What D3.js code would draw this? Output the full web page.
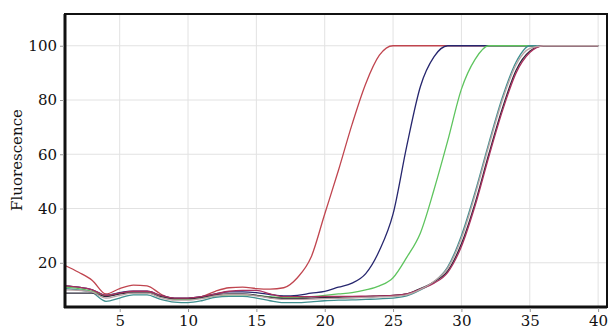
<!DOCTYPE html>
<html>
<head>
<meta charset="utf-8">
<script src="https://cdn.jsdelivr.net/npm/d3@7"></script>
<style>
  body { margin: 0; background: #fff; }
  svg { display: block; }
</style>
</head>
<body>
<div id="chart"></div>
<script>
// cycle numbers
const cycles = [1,2,3,4,5,6,7,8,9,10,11,12,13,14,15,16,17,18,19,20,21,22,23,24,25,26,27,28,29,30,31,32,33,34,35,36,37,38,39,40];

// fluorescence per sample
const redVals = [19,16.5,13.5,8.5,10.5,11.8,11.5,8.5,6.5,6.5,7.5,9.5,10.8,11,10.5,10.3,10.8,14.5,22,38,54,71,86,96.5,100,100,100,100,100,100,100,100,100,100,100,100,100,100,100,100];
const navyVals = [11.5,11,10,8,9,9.5,9.5,8,7,7,7.5,8.5,9.3,9.3,9,8.3,7.8,8,8.8,9.5,11,12.5,16,24.5,38,63,85,96,100,100,100,100,100,100,100,100,100,100,100,100];
const greenVals = [11,10.5,9.5,7.8,8.6,9,9,7.5,6.5,6.5,7,7.8,8.2,8.2,8,7.5,7.2,7.2,7.5,8,8.5,9,10,11.5,14.5,22,31,47,65,84,95,100,100,100,100,100,100,100,100,100];
const tealVals = [10.5,10,9,5.8,7,8.2,8.2,6.5,5.5,5.3,6,7.3,7.6,7.6,7,6,5.3,5.3,5.6,6,6.2,6.3,6.5,6.7,7,7.8,10,13,18.5,30,46,64,81,94,100,100,100,100,100,100];
const blackVals = [8.8,8.8,8.8,7.5,8.5,9,9,7.5,6.8,6.8,7.2,8.2,8.5,8.5,8,7.2,6.8,6.8,7,7.2,7.3,7.4,7.5,7.8,8,8.5,10.5,13,17,27,42,60,77,91,98,100,100,100,100,100];
const magentaVals = [11.5,11,10,8,8.8,9.5,9.5,8,7,7,7.5,8.5,9.5,9.8,9.8,8.5,7.5,7.5,7.5,7.6,7.6,7.6,7.7,7.8,8,8.5,10.3,12.5,16.5,26,41,59,76,90,97.5,100,100,100,100,100];
const grayVals = [10,9.8,9.2,7,8,8.8,8.8,7.2,6.2,6.2,6.8,7.8,8.3,8.3,7.8,7,6.5,6.5,6.6,6.8,6.9,7,7.2,7.4,7.6,8.2,10.2,13.2,18,29,45,63,80,93,99,100,100,100,100,100];

const xTicks = [5,10,15,20,25,30,35,40];
const yTicks = [20,40,60,80,100];

const series = [
  {vals: redVals, color: '#c0454f'},
  {vals: navyVals, color: '#26266e'},
  {vals: greenVals, color: '#5ec45e'},
  {vals: tealVals, color: '#3f8f8f'},
  {vals: blackVals, color: '#2a2a3a'},
  {vals: magentaVals, color: '#a8305e'},
  {vals: grayVals, color: '#b9a2a4'}
];

const width = 614, height = 330;
const margin = {top: 14, right: 7, bottom: 23, left: 65};

const svg = d3.select('#chart').append('svg')
  .attr('width', width).attr('height', height);

const x = d3.scaleLinear().domain([1, 40.65]).range([margin.left, width - margin.right]);
const y = d3.scaleLinear().domain([3.7, 111.7]).range([height - margin.bottom, margin.top]);

const font = '"DejaVu Serif", "Liberation Serif", serif';

// grid
svg.append('g').selectAll('line.vg')
  .data(xTicks).enter().append('line')
  .attr('x1', d => x(d)).attr('x2', d => x(d))
  .attr('y1', margin.top).attr('y2', height - margin.bottom)
  .attr('stroke', '#e2e2e2').attr('stroke-width', 1);

svg.append('g').selectAll('line.hg')
  .data(yTicks).enter().append('line')
  .attr('x1', margin.left).attr('x2', width - margin.right)
  .attr('y1', d => y(d)).attr('y2', d => y(d))
  .attr('stroke', '#e2e2e2').attr('stroke-width', 1);

// curves
const line = d3.line()
  .curve(d3.curveMonotoneX)
  .x((d, i) => x(cycles[i]))
  .y(d => y(d));

series.forEach(s => {
  svg.append('path')
    .attr('d', line(s.vals))
    .attr('fill', 'none')
    .attr('stroke', s.color)
    .attr('stroke-width', 1.3);
});

// frame
svg.append('rect')
  .attr('x', margin.left).attr('y', margin.top)
  .attr('width', width - margin.right - margin.left)
  .attr('height', height - margin.bottom - margin.top)
  .attr('fill', 'none').attr('stroke', '#111').attr('stroke-width', 2);

svg.append('line')
  .attr('x1', margin.left).attr('x2', margin.left)
  .attr('y1', margin.top).attr('y2', height - margin.bottom + 1)
  .attr('stroke', '#111').attr('stroke-width', 3);
svg.append('line')
  .attr('x1', margin.left - 1).attr('x2', width - margin.right)
  .attr('y1', height - margin.bottom).attr('y2', height - margin.bottom)
  .attr('stroke', '#111').attr('stroke-width', 3);

// axes
const yAxis = d3.axisLeft(y).tickValues(yTicks).tickSize(4).tickPadding(3);
const gy = svg.append('g').attr('transform', 'translate(' + (margin.left - 1) + ',0)').call(yAxis);
gy.select('.domain').remove();
gy.selectAll('.tick line').attr('stroke', '#999');
gy.selectAll('.tick text').attr('font-family', font).attr('font-size', 15).attr('fill', '#111');

const xAxis = d3.axisBottom(x).tickValues(xTicks).tickSize(4).tickPadding(3);
const gx = svg.append('g').attr('transform', 'translate(0,' + (height - margin.bottom + 1) + ')').call(xAxis);
gx.select('.domain').remove();
gx.selectAll('.tick line').attr('stroke', '#999');
gx.selectAll('.tick text').attr('font-family', font).attr('font-size', 15).attr('fill', '#111');

svg.append('text')
  .attr('transform', 'translate(22,160) rotate(-90)')
  .attr('text-anchor', 'middle')
  .attr('font-family', font)
  .attr('font-size', 15)
  .attr('fill', '#111')
  .text('Fluorescence');
</script>
</body>
</html>
